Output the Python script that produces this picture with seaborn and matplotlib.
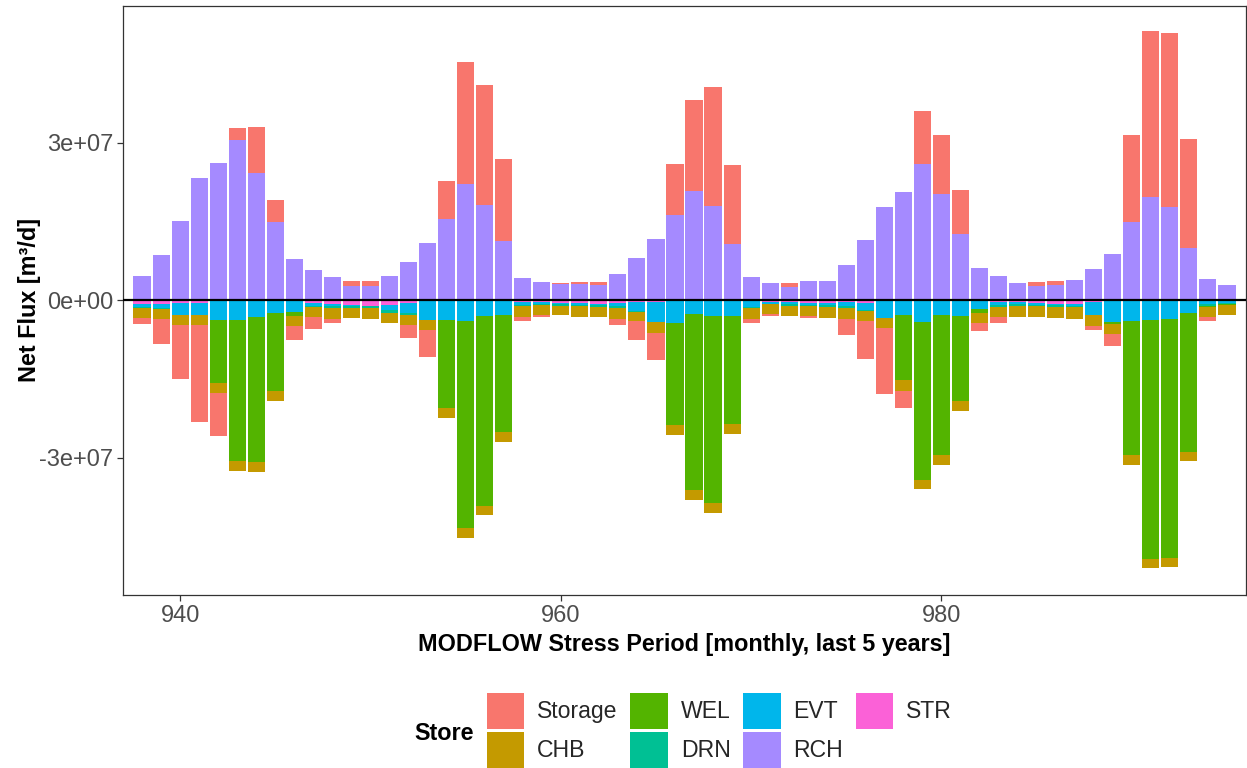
import numpy as np
import pandas as pd
import matplotlib
matplotlib.use("Agg")
import matplotlib.pyplot as plt
from matplotlib.patches import Patch
import seaborn as sns

sns.set_theme(style="white")
plt.rcParams["font.family"] = ["Liberation Sans", "DejaVu Sans"]

# Monthly stress periods (last 5 years of the MODFLOW run)
periods = [938, 939, 940, 941, 942, 943, 944, 945, 946, 947,
           948, 949, 950, 951, 952, 953, 954, 955, 956, 957,
           958, 959, 960, 961, 962, 963, 964, 965, 966, 967,
           968, 969, 970, 971, 972, 973, 974, 975, 976, 977,
           978, 979, 980, 981, 982, 983, 984, 985, 986, 987,
           988, 989, 990, 991, 992, 993, 994, 995]

# Net flux per budget term, in million m3/d
storage = [-1.0, -4.8, -10.3, -18.4, -8.2, 2.3, 8.8, 4.2, -2.6, -2.2,
           -0.6, 1.1, 1.1, 0.0, -2.5, -5.1, 7.1, 23.3, 22.9, 15.7,
           -0.8, -0.4, 0.1, 0.3, 0.6, -1.1, -3.5, -5.3, 9.7, 17.3,
           22.6, 15.1, -0.7, -0.4, 0.8, -0.3, 0.0, -3.0, -7.3, -12.6,
           -3.2, 10.1, 11.4, 8.5, -1.6, -1.2, 0.0, 0.9, 0.8, 0.0,
           -0.9, -2.3, 16.6, 31.6, 33.1, 20.7, -0.8, 0.0]
chb = [-1.9, -1.8, -1.9, -1.9, -1.85, -1.85, -1.85, -1.8, -1.9, -1.9,
       -2.1, -1.9, -2.0, -1.9, -1.9, -1.9, -1.9, -1.9, -1.85, -1.8,
       -2.0, -1.9, -1.8, -2.0, -2.0, -2.1, -1.9, -2.0, -1.9, -1.9,
       -1.8, -1.8, -2.1, -1.9, -2.0, -1.9, -2.1, -2.1, -1.9, -1.9,
       -2.0, -1.9, -1.9, -1.8, -1.9, -1.9, -2.2, -2.1, -2.2, -2.3,
       -2.1, -2.0, -1.9, -1.8, -1.7, -1.7, -1.8, -1.9]
wel = [0.0, 0.0, 0.0, 0.0, -11.9, -26.9, -27.7, -15.0, -0.8, 0.0,
       0.0, 0.0, 0.0, 0.0, 0.0, 0.0, -16.8, -39.3, -36.1, -22.4,
       0.0, 0.0, 0.0, 0.0, 0.0, 0.0, 0.0, 0.0, -19.6, -33.5,
       -35.6, -20.6, 0.0, 0.0, 0.0, 0.0, 0.0, 0.0, 0.0, 0.0,
       -12.4, -30.0, -26.7, -16.3, -0.6, 0.0, 0.0, 0.0, 0.0, 0.0,
       0.0, -0.3, -25.5, -45.5, -45.5, -26.5, -0.3, -0.2]
drn = [-0.3, -0.3, 0.0, 0.0, 0.0, 0.0, 0.0, 0.0, 0.0, -0.3,
       -0.4, -0.4, -0.4, -0.5, -0.3, 0.0, 0.0, 0.0, 0.0, 0.0,
       -0.3, -0.3, -0.3, -0.3, -0.3, -0.4, -0.1, 0.0, 0.0, 0.0,
       0.0, 0.0, -0.3, -0.1, -0.3, -0.3, -0.4, -0.3, -0.1, 0.0,
       0.0, 0.0, 0.0, 0.0, 0.0, -0.3, -0.3, -0.3, -0.3, -0.3,
       0.0, 0.0, 0.0, 0.0, 0.0, 0.0, -0.3, -0.2]
evt = [-0.6, -0.8, -2.3, -2.4, -3.7, -3.6, -3.0, -2.2, -2.1, -0.5,
       -0.5, -0.3, 0.0, -1.1, -1.9, -3.7, -3.6, -3.9, -2.9, -2.6,
       -0.5, -0.3, -0.2, -0.3, -0.3, -0.5, -1.7, -3.9, -4.1, -2.5,
       -2.9, -2.9, -1.1, -0.3, -0.4, -0.4, -0.5, -0.8, -1.4, -3.2,
       -2.7, -4.0, -2.7, -2.8, -1.6, -0.6, -0.4, -0.3, -0.3, -0.4,
       -2.5, -4.0, -3.8, -3.6, -3.5, -2.2, -0.6, -0.3]
rch = [4.6, 8.6, 15.2, 23.4, 26.1, 30.5, 24.3, 15.0, 7.9, 5.8,
       4.4, 2.7, 2.7, 4.6, 7.3, 11.0, 15.6, 22.1, 18.2, 11.3,
       4.3, 3.6, 3.2, 3.2, 2.9, 5.1, 8.0, 11.7, 16.3, 20.8,
       18.0, 10.7, 4.4, 3.4, 2.6, 3.7, 3.8, 6.7, 11.6, 17.9,
       20.6, 26.0, 20.2, 12.6, 6.2, 4.6, 3.4, 2.7, 2.9, 3.9,
       6.0, 8.8, 14.9, 19.7, 17.9, 10.0, 4.0, 3.0]
strm = [-0.6, -0.6, -0.4, -0.4, -0.1, -0.1, -0.1, -0.1, -0.1, -0.5,
        -0.6, -0.8, -1.1, -0.8, -0.5, -0.1, -0.1, -0.1, -0.1, -0.1,
        -0.3, -0.3, -0.5, -0.5, -0.6, -0.5, -0.3, -0.2, -0.1, -0.1,
        -0.1, -0.1, -0.1, -0.3, -0.3, -0.4, -0.4, -0.3, -0.5, -0.1,
        -0.1, -0.1, -0.1, -0.1, -0.1, -0.3, -0.3, -0.5, -0.6, -0.6,
        -0.2, -0.1, -0.1, -0.1, -0.1, -0.1, -0.1, -0.1]

store_levels = ["Storage", "CHB", "WEL", "DRN", "EVT", "RCH", "STR"]
store_colors = ["#F8766D", "#C49A00", "#53B400", "#00C094",
                "#00B6EB", "#A58AFF", "#FB61D7"]
palette = dict(zip(store_levels, sns.color_palette(store_colors)))

flux = pd.DataFrame({"period": periods, "Storage": storage, "CHB": chb,
                     "WEL": wel, "DRN": drn, "EVT": evt, "RCH": rch,
                     "STR": strm})
long = flux.melt(id_vars="period", var_name="Store", value_name="flux")
long["flux"] = long["flux"] * 1e6

fig = plt.figure(figsize=(12.47, 7.68), dpi=100)
W, H = 1247, 768
ax = fig.add_axes([123 / W, (H - 595) / H, (1246 - 123) / W, (595 - 5.7) / H])

# stacked bars: positives build upward, negatives downward,
# last factor level nearest to zero
x = np.array(periods, dtype=float)
pos_base = np.zeros(len(x))
neg_base = np.zeros(len(x))
for store in store_levels[::-1]:
    v = long.loc[long["Store"] == store, "flux"].to_numpy()
    pos = np.where(v > 0, v, 0.0)
    neg = np.where(v < 0, v, 0.0)
    m = pos > 0
    if m.any():
        ax.bar(x[m], pos[m], bottom=pos_base[m], width=0.9,
               color=palette[store], linewidth=0)
    m = neg < 0
    if m.any():
        ax.bar(x[m], neg[m], bottom=neg_base[m], width=0.9,
               color=palette[store], linewidth=0)
    pos_base += pos
    neg_base += neg

ax.axhline(0, color="black", linewidth=1.6, zorder=3)

ax.set_xlim(937.0, 996.0)
ax.set_ylim(-5.61e7, 5.615e7)
ax.set_xticks([940, 960, 980])
ax.set_xticklabels(["940", "960", "980"])
ax.set_yticks([-3e7, 0, 3e7])
ax.set_yticklabels(["-3e+07", "0e+00", "3e+07"])
ax.tick_params(bottom=True, left=True, length=4, width=0.9,
               color="#333333", labelcolor="#4D4D4D", labelsize=17, pad=3)
for sp in ax.spines.values():
    sp.set_visible(True)
    sp.set_color("#333333")
    sp.set_linewidth(0.9)
ax.grid(False)

fig.text(30 / W, 1 - 300 / H, "Net Flux [m³/d]", rotation=90,
         ha="center", va="center", fontsize=16.8, fontweight="bold",
         color="black")
fig.text(684.5 / W, 1 - 645 / H,
         "MODFLOW Stress Period [monthly, last 5 years]",
         ha="center", va="center", fontsize=16.8, fontweight="bold",
         color="black")

handles = [Patch(facecolor=palette[s], edgecolor="none", label=s)
           for s in store_levels]
fig.legend(handles=handles, ncol=4, frameon=False,
           loc="upper left", bbox_to_anchor=(487 / W, 1 - 693 / H),
           fontsize=16.6, handlelength=1.62, handleheight=2.05,
           handletextpad=0.56, columnspacing=0.55, labelspacing=0.1,
           borderpad=0, borderaxespad=0)
fig.text(444 / W, 1 - 733 / H, "Store", ha="center", va="center",
         fontsize=16.8, fontweight="bold", color="black")

fig.savefig("out.png", dpi=100)
